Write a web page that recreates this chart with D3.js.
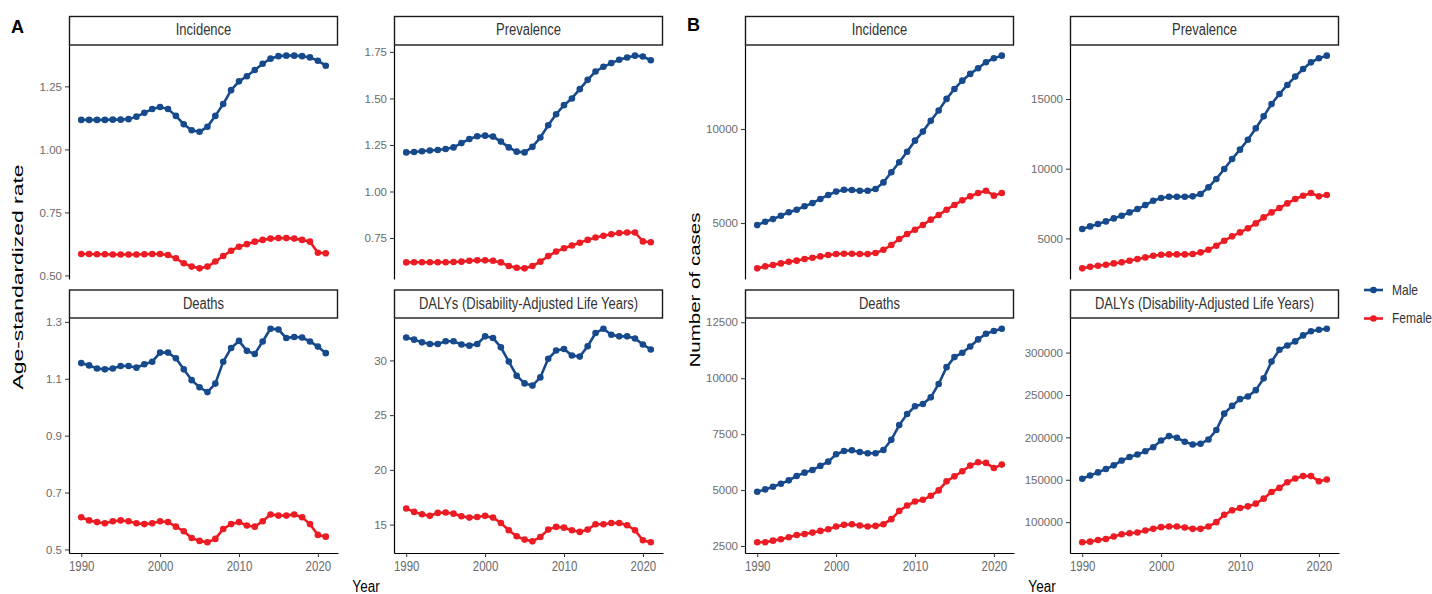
<!DOCTYPE html>
<html>
<head>
<meta charset="utf-8">
<script src="https://cdn.jsdelivr.net/npm/d3@7"></script>
<style>
  body { margin: 0; background: #fff; }
  svg { font-family: "Liberation Sans", Arial, sans-serif; }
</style>
</head>
<body>
<div id="chart-area"></div>
<script>
// ---- data ----
const years = [1990,1991,1992,1993,1994,1995,1996,1997,1998,1999,2000,2001,2002,2003,2004,2005,
               2006,2007,2008,2009,2010,2011,2012,2013,2014,2015,2016,2017,2018,2019,2020,2021];
const sexes = ["Male", "Female"];
const measures = ["Incidence", "Prevalence", "Deaths", "DALYs (Disability-Adjusted Life Years)"];
const xTicks = [1990, 2000, 2010, 2020];

// A: age-standardized rate
const rateIncMale = [1.117,1.117,1.117,1.117,1.118,1.118,1.12,1.13,1.145,1.16,1.168,1.16,1.133,1.10,1.076,1.07,
                     1.09,1.133,1.18,1.235,1.27,1.29,1.315,1.34,1.36,1.37,1.372,1.372,1.37,1.365,1.352,1.332];
const rateIncFemale = [0.585,0.585,0.584,0.584,0.583,0.583,0.583,0.583,0.584,0.585,0.585,0.581,0.568,0.548,0.535,0.528,
                       0.535,0.555,0.577,0.598,0.614,0.624,0.634,0.641,0.646,0.648,0.648,0.646,0.641,0.634,0.59,0.588];
const ratePrevMale = [1.21,1.212,1.216,1.22,1.223,1.228,1.237,1.26,1.282,1.297,1.30,1.295,1.268,1.237,1.214,1.21,
                      1.24,1.29,1.356,1.415,1.464,1.50,1.55,1.60,1.645,1.67,1.69,1.708,1.72,1.73,1.725,1.705];
const ratePrevFemale = [0.619,0.62,0.62,0.62,0.62,0.62,0.621,0.623,0.628,0.63,0.63,0.628,0.619,0.60,0.59,0.587,
                        0.60,0.623,0.653,0.677,0.695,0.71,0.725,0.74,0.753,0.762,0.77,0.777,0.78,0.78,0.732,0.727];
const rateDeathMale = [1.155,1.147,1.136,1.133,1.136,1.145,1.145,1.139,1.151,1.16,1.192,1.192,1.172,1.133,1.095,1.07,
                       1.053,1.083,1.16,1.208,1.233,1.198,1.187,1.231,1.276,1.273,1.243,1.247,1.245,1.231,1.213,1.19];
const rateDeathFemale = [0.613,0.602,0.596,0.592,0.599,0.602,0.599,0.592,0.589,0.592,0.599,0.596,0.58,0.564,0.54,0.53,
                         0.525,0.537,0.572,0.589,0.596,0.584,0.58,0.599,0.623,0.619,0.619,0.623,0.613,0.589,0.551,0.545];
const rateDalyMale = [32.1,31.9,31.65,31.5,31.5,31.75,31.75,31.45,31.35,31.5,32.2,32.05,31.2,29.9,28.6,27.9,
                      27.7,28.45,30.15,30.9,31.05,30.45,30.35,31.3,32.5,32.9,32.35,32.2,32.2,32.0,31.45,31.0];
const rateDalyFemale = [16.47,16.16,15.95,15.8,16.07,16.1,16.0,15.76,15.64,15.7,15.8,15.64,15.15,14.48,13.93,13.63,
                        13.47,13.87,14.54,14.79,14.72,14.48,14.33,14.54,15.03,15.03,15.15,15.15,14.94,14.48,13.57,13.38];

// B: number of cases
const countIncMale = [4890,5070,5210,5390,5570,5710,5890,6060,6280,6490,6670,6770,6755,6720,6720,6810,
                      7160,7700,8230,8790,9380,9860,10440,10980,11600,12130,12570,12930,13230,13550,13760,13900];
const countIncFemale = [2590,2695,2765,2855,2945,3000,3085,3155,3225,3300,3350,3370,3370,3350,3350,3405,
                        3580,3830,4150,4415,4645,4895,5180,5425,5710,5960,6205,6420,6595,6720,6455,6595];
const countPrevMale = [5670,5860,6030,6220,6435,6625,6865,7105,7390,7700,7895,7990,7990,7990,8015,8180,
                       8660,9260,9975,10695,11365,12080,12895,13755,14640,15360,16005,16605,17155,17630,17920,18110];
const countPrevFemale = [2850,2965,3040,3110,3205,3280,3395,3515,3635,3755,3830,3850,3850,3850,3875,3995,
                         4185,4475,4835,5145,5430,5720,6075,6505,6865,7175,7510,7825,8060,8255,8015,8110];
const countDeathMale = [4925,5030,5150,5285,5435,5630,5780,5900,6080,6270,6600,6750,6780,6705,6645,6645,
                        6795,7245,7905,8400,8745,8845,9145,9745,10495,10945,11140,11420,11735,11990,12110,12215];
const countDeathFemale = [2665,2665,2740,2800,2890,2995,3040,3100,3175,3250,3370,3445,3475,3415,3370,3400,
                          3475,3700,4070,4310,4490,4565,4745,4985,5390,5615,5840,6095,6245,6215,5990,6140];
const countDalyMale = [151200,155100,158700,162700,167000,172600,176900,179700,183700,188400,196300,201500,199500,194800,191600,192400,
                       197500,208600,228000,237100,245100,248200,255700,269600,289400,303300,308400,313200,320300,325100,327000,328200];
const countDalyFemale = [76200,77000,79000,80200,83000,85700,86900,87700,90100,92100,94100,94900,94900,93700,92100,92100,
                         94900,100000,108700,113900,116600,118600,121800,127700,135600,140400,147100,151500,154300,154300,148300,150300];

// y tick values per panel
const ticksRateInc = [0.50, 0.75, 1.00, 1.25];
const ticksRatePrev = [0.75, 1.00, 1.25, 1.50, 1.75];
const ticksRateDeath = [0.5, 0.7, 0.9, 1.1, 1.3];
const ticksRateDaly = [15, 20, 25, 30];
const ticksCountInc = [5000, 10000];
const ticksCountPrev = [5000, 10000, 15000];
const ticksCountDeath = [2500, 5000, 7500, 10000, 12500];
const ticksCountDaly = [100000, 150000, 200000, 250000, 300000];

// ---- layout ----
const width = 1432, height = 594;
const colors = {Male: "#174a8c", Female: "#ec1c24"};
const panelW = 269;
const rowTop = [{strip: 16.5, top: 45, bottom: 279}, {strip: 290, top: 318, bottom: 553}];
const colLeft = [69, 394, 745, 1070];
const STRETCH = 1.2;   // text in the figure is drawn a bit tall

const svg = d3.select("#chart-area").append("svg")
  .attr("width", width).attr("height", height);

const panels = [
  {col: 0, row: 0, title: measures[0], male: rateIncMale, female: rateIncFemale, ticks: ticksRateInc, fmt: ".2f"},
  {col: 1, row: 0, title: measures[1], male: ratePrevMale, female: ratePrevFemale, ticks: ticksRatePrev, fmt: ".2f"},
  {col: 0, row: 1, title: measures[2], male: rateDeathMale, female: rateDeathFemale, ticks: ticksRateDeath, fmt: ".1f"},
  {col: 1, row: 1, title: measures[3], male: rateDalyMale, female: rateDalyFemale, ticks: ticksRateDaly, fmt: "d"},
  {col: 2, row: 0, title: measures[0], male: countIncMale, female: countIncFemale, ticks: ticksCountInc, fmt: "d"},
  {col: 3, row: 0, title: measures[1], male: countPrevMale, female: countPrevFemale, ticks: ticksCountPrev, fmt: "d"},
  {col: 2, row: 1, title: measures[2], male: countDeathMale, female: countDeathFemale, ticks: ticksCountDeath, fmt: "d"},
  {col: 3, row: 1, title: measures[3], male: countDalyMale, female: countDalyFemale, ticks: ticksCountDaly, fmt: "d"}
];

function expand(ext) {
  const pad = (ext[1] - ext[0]) * 0.05;
  return [ext[0] - pad, ext[1] + pad];
}

panels.forEach(p => {
  const r = rowTop[p.row];
  const h = r.bottom - r.top;
  const g = svg.append("g").attr("transform", `translate(${colLeft[p.col]},${r.top})`);

  const x = d3.scaleLinear().domain(expand(d3.extent(years))).range([0, panelW]);
  const y = d3.scaleLinear().domain(expand(d3.extent(p.male.concat(p.female)))).range([h, 0]);

  // strip
  g.append("rect")
    .attr("x", 0.5).attr("y", r.strip - r.top)
    .attr("width", panelW - 1).attr("height", r.top - r.strip)
    .attr("fill", "#fff").attr("stroke", "#1a1a1a").attr("stroke-width", 1.4);
  g.append("text")
    .attr("transform", `translate(${panelW / 2},${(r.strip - r.top) / 2 + 4.5}) scale(1,${STRETCH})`)
    .attr("text-anchor", "middle")
    .style("font-size", "13px").attr("fill", "#333")
    .text(p.title);

  // y axis
  const yAxis = g.append("g").call(d3.axisLeft(y).tickValues(p.ticks)
      .tickFormat(d3.format(p.fmt)).tickSize(4).tickPadding(3).tickSizeOuter(0));
  yAxis.select(".domain").attr("stroke", "#000").attr("stroke-width", 1.2);
  yAxis.selectAll(".tick line").attr("stroke", "#333");
  yAxis.selectAll(".tick text").attr("fill", "#6b6b6b").style("font-size", "11.5px").style("font-family", "inherit");

  // x axis only on the bottom row
  if (p.row === 1) {
    const xAxis = g.append("g").attr("transform", `translate(0,${h})`)
      .call(d3.axisBottom(x).tickValues(xTicks).tickFormat(d3.format("d"))
        .tickSize(4).tickPadding(3).tickSizeOuter(0));
    xAxis.select(".domain").attr("stroke", "#000").attr("stroke-width", 1.2);
    xAxis.selectAll(".tick line").attr("stroke", "#333");
    xAxis.selectAll(".tick text").attr("fill", "#6b6b6b").style("font-size", "11.5px")
      .style("font-family", "inherit").attr("transform", `scale(1,${STRETCH})`);
  }

  // series
  const line = d3.line().x((d, i) => x(years[i])).y(d => y(d));
  [["Male", p.male], ["Female", p.female]].forEach(([sex, vals]) => {
    g.append("path").datum(vals)
      .attr("d", line).attr("fill", "none")
      .attr("stroke", colors[sex]).attr("stroke-width", 2.6);
    g.selectAll(null).data(vals).enter().append("circle")
      .attr("cx", (d, i) => x(years[i])).attr("cy", d => y(d))
      .attr("r", 3.3).attr("fill", colors[sex]);
  });
});

// figure labels
svg.append("text").attr("x", 11).attr("y", 33).style("font-size", "18px")
  .style("font-weight", "bold").text("A");
svg.append("text").attr("x", 687).attr("y", 31).style("font-size", "18px")
  .style("font-weight", "bold").text("B");

// axis titles
svg.append("text")
  .attr("transform", "translate(23,277) rotate(-90)")
  .attr("text-anchor", "middle").style("font-size", "14px")
  .attr("textLength", 225).attr("lengthAdjust", "spacingAndGlyphs")
  .text("Age-standardized rate");
svg.append("text")
  .attr("transform", "translate(700,290) rotate(-90)")
  .attr("text-anchor", "middle").style("font-size", "15px")
  .attr("textLength", 155).attr("lengthAdjust", "spacingAndGlyphs")
  .text("Number of cases");
svg.append("text")
  .attr("transform", `translate(366,592) scale(1,${STRETCH})`)
  .attr("text-anchor", "middle").style("font-size", "13.5px").text("Year");
svg.append("text")
  .attr("transform", `translate(1042,592) scale(1,${STRETCH})`)
  .attr("text-anchor", "middle").style("font-size", "13.5px").text("Year");

// legend
const legend = svg.append("g").attr("transform", "translate(1364,290)");
sexes.forEach((s, i) => {
  const lg = legend.append("g").attr("transform", `translate(0,${i * 28.5})`);
  lg.append("line").attr("x1", 0).attr("x2", 19).attr("y1", 0).attr("y2", 0)
    .attr("stroke", colors[s]).attr("stroke-width", 2.6);
  lg.append("circle").attr("cx", 9.5).attr("cy", 0).attr("r", 3.3).attr("fill", colors[s]);
  lg.append("text").attr("transform", `translate(28,4.5) scale(1,${STRETCH})`)
    .style("font-size", "12px").attr("fill", "#333").text(s);
});
</script>
</body>
</html>
